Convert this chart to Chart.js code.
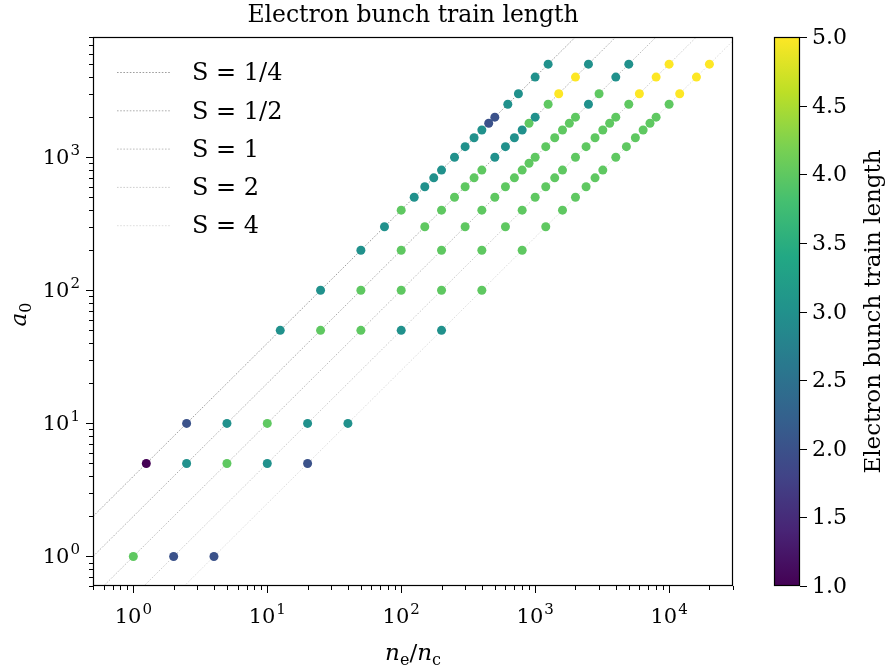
<!DOCTYPE html>
<html>
<head>
<meta charset="utf-8">
<script src="https://cdn.jsdelivr.net/npm/chart.js@4.4.1/dist/chart.umd.min.js"></script>
<style>
  html, body { margin: 0; padding: 0; background: #fff; }
  #chart { display: block; }
</style>
</head>
<body>
<canvas id="chart" width="886" height="671"></canvas>
<script>
// --- Data ---
const sValues = [0.25, 0.5, 1, 2, 4];
const sLabels = ['S = 1/4', 'S = 1/2', 'S = 1', 'S = 2', 'S = 4'];
const a0Values = [1, 5, 10, 50, 100, 200, 300, 400, 500, 600, 700, 800, 900, 1000, 1200, 1400, 1600, 1800, 2000, 2500, 3000, 4000, 5000];
// electron bunch train length per S, aligned with a0Values (null = no point)
const trainS14 = [null, 1, 2, 3, 3, 3, 3, 4, 3, 3, 3, 3, null, 3, 3, 3, 3, 2, 2, 3, 3, 3, 3];
const trainS12 = [null, 3, 3, 4, 4, 4, 4, 4, 4, 4, 4, 4, null, 3, 3, 3, 3, 4, 3, 4, 5, 5, 3];
const trainS1  = [4, 4, 4, 4, 4, 4, 4, 4, 4, 4, 4, 4, 4, 4, 4, 4, 4, 4, 4, 3, 4, 3, 3];
const trainS2  = [2, 3, 3, 3, 4, 4, 4, 4, 4, 4, 4, 4, null, 4, 4, 4, 4, 4, 4, 4, 5, 5, 5];
const trainS4  = [2, 2, 3, 3, 4, 4, 4, 4, 4, 4, 4, 4, null, 4, 4, 4, 4, 4, 4, 4, 5, 5, 5];
const trainBySeries = [trainS14, trainS12, trainS1, trainS2, trainS4];
const xTickPowers = [0, 1, 2, 3, 4];
const yTickPowers = [0, 1, 2, 3];
const colorbarTicks = ['1.0', '1.5', '2.0', '2.5', '3.0', '3.5', '4.0', '4.5', '5.0'];

const X_MIN = 0.5, X_MAX = 30000, Y_MIN = 0.6, Y_MAX = 8000;
const C_MIN = 1, C_MAX = 5;
const SERIF = '"DejaVu Serif", "Liberation Serif", serif';

// --- viridis ---
const viridisStops = ['#440154', '#482475', '#414487', '#355f8d', '#2a788e', '#21918c',
                      '#22a884', '#44bf70', '#7ad151', '#bddf26', '#fde725'];
const hexRgb = h => [1, 3, 5].map(i => parseInt(h.slice(i, i + 2), 16));
function viridis(t) {
    t = Math.min(1, Math.max(0, t));
    const p = t * (viridisStops.length - 1);
    const i = Math.min(Math.floor(p), viridisStops.length - 2);
    const f = p - i;
    const a = hexRgb(viridisStops[i]), b = hexRgb(viridisStops[i + 1]);
    const c = a.map((v, k) => Math.round(v + (b[k] - v) * f));
    return `rgb(${c[0]},${c[1]},${c[2]})`;
}

// --- datasets ---
const lineAlpha = [0.62, 0.52, 0.42, 0.32, 0.22];
const lineColor = i => `rgba(80,80,80,${lineAlpha[i]})`;
const lineDash = [1.6, 1.6];

const datasets = [];
sValues.forEach((s, i) => {
    datasets.push({
        type: 'line',
        label: sLabels[i],
        data: [{ x: X_MIN, y: X_MIN / s }, { x: X_MAX, y: X_MAX / s }],
        borderColor: lineColor(i),
        borderWidth: 0.9,
        borderDash: lineDash,
        pointRadius: 0,
        order: 2
    });
});
sValues.forEach((s, i) => {
    const pts = [], cols = [];
    a0Values.forEach((a0, j) => {
        const v = trainBySeries[i][j];
        if (v === null) return;
        pts.push({ x: s * a0, y: a0, v: v });
        cols.push(viridis((v - C_MIN) / (C_MAX - C_MIN)));
    });
    datasets.push({
        type: 'scatter',
        data: pts,
        backgroundColor: cols,
        borderWidth: 0,
        pointRadius: 4.5,
        order: 1
    });
});

// --- text helpers ---
function drawPow(ctx, x, y, exp, align) {
    ctx.font = `21px ${SERIF}`;
    const wb = ctx.measureText('10').width;
    ctx.font = `15px ${SERIF}`;
    const we = ctx.measureText(String(exp)).width;
    let x0 = align === 'right' ? x - wb - we - 1 : x - (wb + we + 1) / 2;
    ctx.textAlign = 'left';
    ctx.textBaseline = 'alphabetic';
    ctx.font = `21px ${SERIF}`;
    ctx.fillText('10', x0, y);
    ctx.font = `15px ${SERIF}`;
    ctx.fillText(String(exp), x0 + wb + 1, y - 9);
}

function drawSubLabel(ctx, x, y, parts) {
    // parts: [text, font, dy]
    let total = 0;
    parts.forEach(p => { ctx.font = p[1]; total += ctx.measureText(p[0]).width; });
    let cx = x - total / 2;
    ctx.textAlign = 'left';
    ctx.textBaseline = 'alphabetic';
    parts.forEach(p => {
        ctx.font = p[1];
        ctx.fillText(p[0], cx, y + p[2]);
        cx += ctx.measureText(p[0]).width;
    });
}

const decor = {
    id: 'decor',
    afterDraw(chart) {
        const ctx = chart.ctx;
        const area = chart.chartArea;
        const xs = chart.scales.x, ys = chart.scales.y;
        ctx.save();
        ctx.fillStyle = '#000';
        ctx.strokeStyle = '#000';

        // axes frame
        ctx.lineWidth = 1.2;
        ctx.strokeRect(area.left + 0.5, area.top + 0.5, area.right - area.left - 1, area.bottom - area.top - 1);

        // log ticks
        ctx.lineWidth = 1;
        for (let n = -1; n <= 4; n++) {
            for (let m = 1; m <= 9; m++) {
                const v = m * Math.pow(10, n);
                const len = m === 1 ? 7 : 4;
                if (v >= X_MIN * 0.999 && v <= X_MAX * 1.001) {
                    const px = Math.round(xs.getPixelForValue(v)) + 0.5;
                    ctx.beginPath();
                    ctx.moveTo(px, area.bottom);
                    ctx.lineTo(px, area.bottom + len);
                    ctx.stroke();
                }
                if (v >= Y_MIN * 0.999 && v <= Y_MAX * 1.001) {
                    const py = Math.round(ys.getPixelForValue(v)) + 0.5;
                    ctx.beginPath();
                    ctx.moveTo(area.left, py);
                    ctx.lineTo(area.left - len, py);
                    ctx.stroke();
                }
            }
        }
        xTickPowers.forEach(p => drawPow(ctx, xs.getPixelForValue(Math.pow(10, p)), area.bottom + 37, p, 'center'));
        yTickPowers.forEach(p => drawPow(ctx, area.left - 13, ys.getPixelForValue(Math.pow(10, p)) + 7, p, 'right'));

        // title
        ctx.font = `23.5px ${SERIF}`;
        ctx.textAlign = 'center';
        ctx.textBaseline = 'alphabetic';
        ctx.fillText('Electron bunch train length', (area.left + area.right) / 2, 22);

        // x label n_e / n_c
        const it = `italic 23px ${SERIF}`, sub = `16px ${SERIF}`, rm = `23px ${SERIF}`;
        drawSubLabel(ctx, (area.left + area.right) / 2, 660,
            [['n', it, 0], ['e', sub, 5], ['/', rm, 0], ['n', it, 0], ['c', sub, 5]]);

        // y label a_0
        ctx.save();
        ctx.translate(26, (area.top + area.bottom) / 2 + 3);
        ctx.rotate(-Math.PI / 2);
        drawSubLabel(ctx, 0, 0, [['a', it, 0], ['0', sub, 5]]);
        ctx.restore();

        // legend
        chart.data.datasets.forEach((ds, i) => {
            if (ds.type !== 'line') return;
            const y = area.top + 35 + i * 38.3;
            ctx.save();
            ctx.strokeStyle = ds.borderColor;
            ctx.lineWidth = ds.borderWidth;
            ctx.setLineDash(ds.borderDash);
            ctx.beginPath();
            ctx.moveTo(area.left + 24, y + 0.5);
            ctx.lineTo(area.left + 77, y + 0.5);
            ctx.stroke();
            ctx.restore();
            ctx.font = `24px ${SERIF}`;
            ctx.textAlign = 'left';
            ctx.textBaseline = 'middle';
            ctx.fillText(ds.label, area.left + 99, y + 2);
        });

        // colorbar
        const cbL = 774, cbR = 800, cbT = area.top, cbB = area.bottom;
        const grad = ctx.createLinearGradient(0, cbB, 0, cbT);
        viridisStops.forEach((c, i) => grad.addColorStop(i / (viridisStops.length - 1), c));
        ctx.fillStyle = grad;
        ctx.fillRect(cbL, cbT, cbR - cbL, cbB - cbT);
        ctx.lineWidth = 1.2;
        ctx.strokeStyle = '#000';
        ctx.strokeRect(cbL + 0.5, cbT + 0.5, cbR - cbL - 1, cbB - cbT - 1);
        ctx.fillStyle = '#000';
        ctx.lineWidth = 1;
        ctx.font = `22px ${SERIF}`;
        ctx.textAlign = 'left';
        ctx.textBaseline = 'middle';
        colorbarTicks.forEach(t => {
            const v = parseFloat(t);
            const py = Math.round(cbB - (v - C_MIN) / (C_MAX - C_MIN) * (cbB - cbT)) + 0.5;
            ctx.beginPath();
            ctx.moveTo(cbR, py);
            ctx.lineTo(cbR + 7, py);
            ctx.stroke();
            ctx.fillText(t, cbR + 12, py + 1);
        });
        ctx.save();
        ctx.translate(880, (cbT + cbB) / 2);
        ctx.rotate(-Math.PI / 2);
        ctx.font = `23px ${SERIF}`;
        ctx.textAlign = 'center';
        ctx.textBaseline = 'alphabetic';
        ctx.fillText('Electron bunch train length', 0, 0);
        ctx.restore();

        ctx.restore();
    }
};

new Chart(document.getElementById('chart'), {
    data: { datasets: datasets },
    options: {
        responsive: false,
        animation: false,
        devicePixelRatio: 1,
        layout: { padding: { left: 0, right: 153, top: 37, bottom: 0 } },
        scales: {
            x: {
                type: 'logarithmic',
                min: X_MIN, max: X_MAX,
                grid: { display: false },
                border: { display: false },
                ticks: { display: false },
                afterFit: s => { s.height = 85; }
            },
            y: {
                type: 'logarithmic',
                min: Y_MIN, max: Y_MAX,
                grid: { display: false },
                border: { display: false },
                ticks: { display: false },
                afterFit: s => { s.width = 93; }
            }
        },
        plugins: {
            legend: { display: false },
            tooltip: { enabled: false },
            title: { display: false }
        }
    },
    plugins: [decor]
});
</script>
</body>
</html>
